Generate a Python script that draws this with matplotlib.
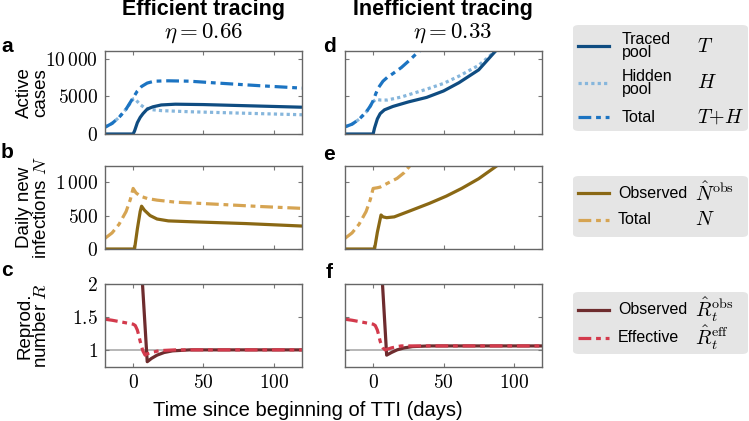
import numpy as np
import matplotlib
matplotlib.use("Agg")
import matplotlib.pyplot as plt
from matplotlib.lines import Line2D
from matplotlib.patches import FancyBboxPatch

plt.rcParams['font.family'] = ['Liberation Sans', 'DejaVu Sans']
plt.rcParams['mathtext.fontset'] = 'cm'

##### time axis limits and ticks
xticks = [0, 50, 100]
xticklabels = ['$0$', '$50$', '$100$']

##### a: efficient tracing, active cases
t_traced_a = [-20, 0, 1, 3, 5, 7, 10, 14, 20, 30, 50, 80, 120]
traced_a = [0, 0, 400, 1500, 2200, 2700, 3300, 3600, 3850, 3950, 3900, 3750, 3550]
t_hidden_a = [-20, -15, -10, -5, -2, 0, 1, 2, 5, 8, 12, 20, 40, 80, 120]
hidden_a = [900, 1400, 2200, 3300, 4100, 4650, 4700, 4500, 3900, 3500, 3250, 3100, 2950, 2750, 2550]
t_total_a = [-20, -15, -10, -5, -2, 0, 3, 6, 10, 15, 25, 40, 60, 90, 120]
total_a = [900, 1400, 2200, 3300, 4200, 4800, 5700, 6300, 6750, 7000, 7050, 7000, 6750, 6400, 6080]

##### d: inefficient tracing, active cases
t_traced_d = [-20, 0, 1, 3, 5, 8, 14, 25, 38, 50, 61, 75, 87]
traced_d = [0, 0, 800, 2000, 2700, 3200, 3650, 4250, 4850, 5700, 6800, 8500, 11000]
t_hidden_d = [-20, -15, -10, -5, -2, 0, 2, 5, 10, 20, 38, 50, 61, 75, 87]
hidden_d = [950, 1300, 1950, 2900, 3700, 4300, 4600, 4500, 4500, 4900, 5940, 6700, 7670, 9100, 11000]
t_total_d = [-20, -15, -10, -5, -2, 0, 2, 4, 7, 10, 14, 20, 26, 31, 33]
total_d = [950, 1300, 1950, 2900, 3700, 4400, 5400, 6200, 7000, 7500, 8000, 8800, 9800, 10700, 11000]

##### b: efficient tracing, daily new infections
t_ntot_b = [-20, -15, -10, -5, -2, 0, 2, 5, 10, 17, 30, 63, 90, 120]
ntot_b = [160, 240, 370, 560, 740, 905, 840, 790, 755, 730, 700, 665, 635, 607]
t_nobs_b = [-20, 1, 3, 5, 6, 8, 12, 17, 25, 40, 80, 120]
nobs_b = [0, 0, 300, 560, 640, 580, 500, 448, 420, 408, 380, 343]

##### e: inefficient tracing, daily new infections
t_ntot_e = [-20, -15, -10, -5, -2, 0, 3, 5, 10, 17, 22, 26]
ntot_e = [160, 240, 370, 560, 740, 905, 915, 925, 980, 1055, 1140, 1240]
t_nobs_e = [-20, 1, 3, 5.6, 7, 9.6, 15, 25, 40, 52, 63, 75, 87]
nobs_e = [0, 0, 250, 508, 480, 468, 480, 560, 682, 790, 906, 1050, 1229]

##### c / f: reproduction number
t_reff = [-20, -15, -10, -5, 0, 1.5, 3, 4, 5, 6, 7, 8.5, 10, 13, 17, 20, 30, 120]
reff_c = [1.465, 1.45, 1.43, 1.41, 1.39, 1.37, 1.30, 1.22, 1.13, 1.05, 0.98, 0.92, 0.94, 0.96, 0.98, 0.99, 1.0, 1.0]
reff_f = [1.465, 1.45, 1.43, 1.41, 1.39, 1.37, 1.30, 1.22, 1.13, 1.07, 1.03, 1.0, 1.01, 1.03, 1.05, 1.06, 1.06, 1.06]
t_robs_c = [6, 6.5, 10, 13, 17, 22, 28, 40, 120]
robs_c = [3.0, 2.05, 0.82, 0.87, 0.92, 0.96, 0.985, 1.0, 1.0]
t_robs_f = [6, 6.5, 9.6, 13, 17, 22, 28, 40, 120]
robs_f = [3.0, 2.05, 0.92, 0.96, 1.0, 1.03, 1.05, 1.06, 1.06]

######## colours
c_traced = '#0f4c81'
c_hidden = '#86b6dc'
c_total = '#1c74c2'
c_nobs = '#8a6814'
c_ntot = '#d6a452'
c_robs = '#6e2c2e'
c_reff = '#d33a4c'

dashdot = (0, (4, 1.5, 1.5, 1.5))
dotted = (0, (1, 1))
lw = 2.3

W, H = 749, 421
fig = plt.figure(figsize=(W / 100, H / 100), dpi=100)


def add_ax(x0, x1, y0, y1):
    return fig.add_axes([x0 / W, 1 - y1 / H, (x1 - x0) / W, (y1 - y0) / H])


def style(ax, yticks, yticklabels, show_x, show_y):
    ax.set_xlim(-20, 120)
    ax.set_xticks(xticks)
    ax.set_yticks(yticks)
    ax.set_xticklabels(xticklabels if show_x else [])
    ax.set_yticklabels(yticklabels if show_y else [])
    ax.tick_params(direction='in', length=3, width=0.8, color='#777777',
                   top=True, right=True, labelsize=14, pad=5)
    for s in ax.spines.values():
        s.set_color('#666666')
        s.set_linewidth(1.0)


cols = [(105, 302), (345, 542)]
rows = [(51, 134), (166, 249), (284, 367)]

# row a / d
for j, (tt, tr, th, hi, to, tot) in enumerate([
        (t_traced_a, traced_a, t_hidden_a, hidden_a, t_total_a, total_a),
        (t_traced_d, traced_d, t_hidden_d, hidden_d, t_total_d, total_d)]):
    ax = add_ax(*cols[j], *rows[0])
    ax.plot(th, hi, color=c_hidden, lw=lw, linestyle=dotted)
    ax.plot(to, tot, color=c_total, lw=lw, linestyle=dashdot)
    ax.plot(tt, tr, color=c_traced, lw=lw, solid_capstyle='butt')
    ax.set_ylim(0, 11000)
    style(ax, [0, 5000, 10000], ['$0$', '$5000$', r'$10\,000$'], False, j == 0)

# row b / e
for j, (tn, nt, to, no) in enumerate([
        (t_ntot_b, ntot_b, t_nobs_b, nobs_b),
        (t_ntot_e, ntot_e, t_nobs_e, nobs_e)]):
    ax = add_ax(*cols[j], *rows[1])
    ax.plot(tn, nt, color=c_ntot, lw=lw, linestyle=dashdot)
    ax.plot(to, no, color=c_nobs, lw=lw)
    ax.set_ylim(0, 1240)
    style(ax, [0, 500, 1000], ['$0$', '$500$', r'$1\,000$'], False, j == 0)

# row c / f
for j, (tr, ro, re) in enumerate([
        (t_robs_c, robs_c, reff_c),
        (t_robs_f, robs_f, reff_f)]):
    ax = add_ax(*cols[j], *rows[2])
    ax.axhline(1, color='#aaaaaa', lw=1.2, zorder=1)
    ax.plot(tr, ro, color=c_robs, lw=lw)
    ax.plot(t_reff, re, color=c_reff, lw=lw, linestyle=dashdot)
    ax.set_ylim(0.74, 2)
    style(ax, [1, 1.5, 2], ['$1$', '$1.5$', '$2$'], True, j == 0)

# titles
fig.text(204 / W, 1 - 10 / H, 'Efficient tracing', ha='center', va='center',
         fontsize=15.5, fontweight='bold')
fig.text(203 / W, 1 - 33 / H, r'$\eta = 0.66$', ha='center', va='center', fontsize=16.5)
fig.text(443 / W, 1 - 10 / H, 'Inefficient tracing', ha='center', va='center',
         fontsize=15.5, fontweight='bold')
fig.text(452 / W, 1 - 33 / H, r'$\eta = 0.33$', ha='center', va='center', fontsize=16.5)

# panel letters
for lab, x, y in [('a', 7, 46), ('b', 7, 152), ('c', 7, 270),
                  ('d', 329, 46), ('e', 329, 155), ('f', 329, 272)]:
    fig.text(x / W, 1 - y / H, lab, ha='center', va='center', fontsize=15, fontweight='bold')

# y labels
for lab, r in [('Active\ncases', rows[0]), ('Daily new\ninfections $N$', rows[1]),
               ('Reprod.\nnumber $R$', rows[2])]:
    fig.text(33 / W, 1 - (r[0] + r[1]) / 2 / H, lab, ha='center', va='center',
             rotation=90, fontsize=13.5, multialignment='center', linespacing=0.95)

fig.text(308 / W, 1 - 410 / H, 'Time since beginning of TTI (days)', ha='center',
         va='center', fontsize=14.5)


# legends
def legend_box(y0, y1, entries, x_lab, x_sym):
    box = FancyBboxPatch((573 / W, 1 - y1 / H), (748 - 573) / W, (y1 - y0) / H,
                         boxstyle='round,pad=0,rounding_size=0.008',
                         transform=fig.transFigure, facecolor='#e5e5e5',
                         edgecolor='none', zorder=0)
    fig.add_artist(box)
    for y, color, ls, label, sym in entries:
        fig.add_artist(Line2D([578 / W, 609 / W], [1 - y / H, 1 - y / H],
                              transform=fig.transFigure, color=color, lw=lw, linestyle=ls))
        fig.text(x_lab / W, 1 - y / H, label, ha='left', va='center', fontsize=11.5,
                 linespacing=0.8)
        fig.text(x_sym / W, 1 - y / H, sym, ha='left', va='center', fontsize=14.5)


legend_box(25, 131, [(46, c_traced, '-', 'Traced\npool', '$T$'),
                     (83, c_hidden, dotted, 'Hidden\npool', '$H$'),
                     (117, c_total, dashdot, 'Total', '$T{+}H$')], 622, 697)
legend_box(176, 237, [(193, c_nobs, '-', 'Observed', r'$\hat{N}^{\rm obs}$'),
                      (220, c_ntot, dashdot, 'Total', '$N$')], 618, 695)
legend_box(292, 354, [(310, c_robs, '-', 'Observed', r'$\hat{R}_t^{\rm obs}$'),
                      (338, c_reff, dashdot, 'Effective', r'$\hat{R}_t^{\rm eff}$')], 618, 695)

fig.savefig('out.png', dpi=100)
